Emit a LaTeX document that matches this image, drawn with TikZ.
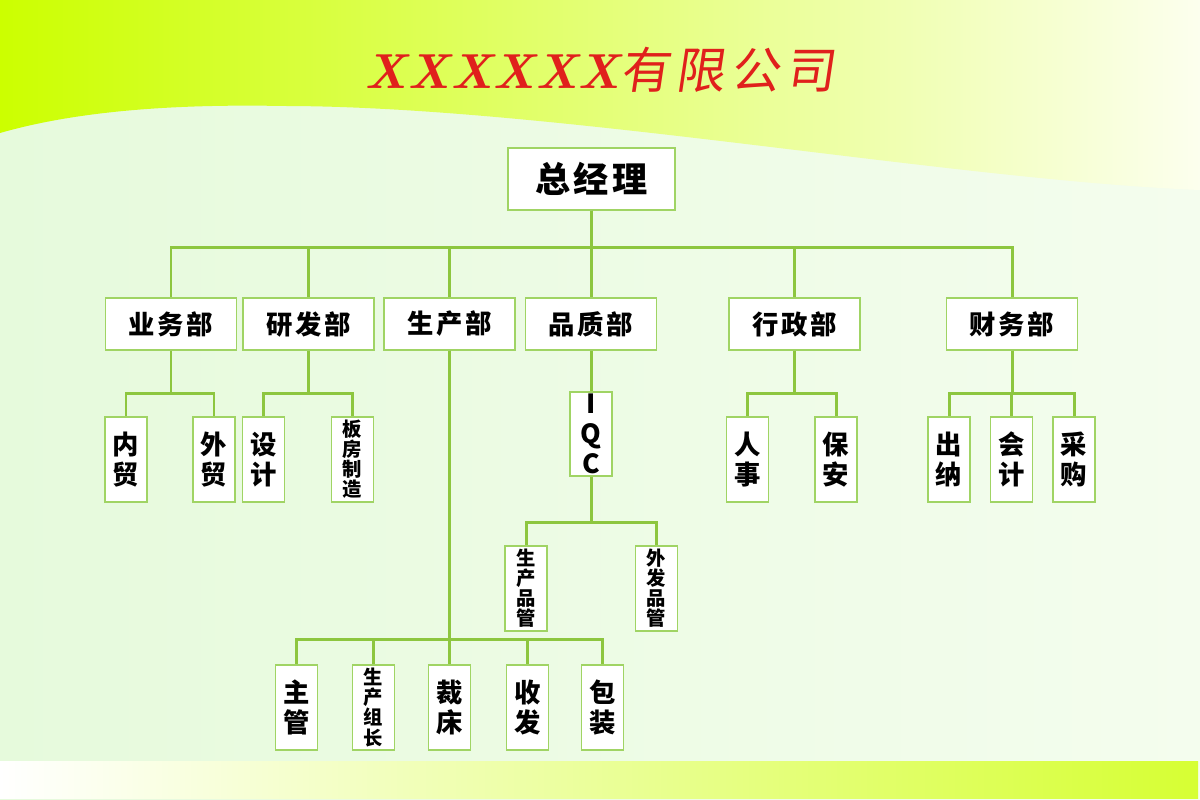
\documentclass[tikz,border=0pt]{standalone}
\usepackage{fontspec}
\usepackage{tikz}
\usetikzlibrary{arrows.meta, positioning, backgrounds}

\newfontfamily\cjk{Noto Sans CJK SC}[LetterSpace=10]
\newfontfamily\cjktitle{Noto Sans CJK SC}[FakeSlant=0.15, LetterSpace=12]

\definecolor{linegreen}{RGB}{141,198,63}
\definecolor{boxgreen}{RGB}{160,212,100}
\definecolor{lime}{RGB}{204,255,0}
\definecolor{limemid}{RGB}{226,251,120}
\definecolor{paletop}{RGB}{252,255,238}
\definecolor{mint}{RGB}{230,250,220}
\definecolor{mintlight}{RGB}{244,253,238}
\definecolor{titlered}{RGB}{224,32,28}

\begin{document}
\begin{tikzpicture}[
            x=0.02cm, y=0.02cm,
            box/.style={rectangle, draw=boxgreen, fill=white, line width=1.1pt, inner sep=0pt},
            boss/.style={box, minimum width=3.34cm, minimum height=1.24cm, font=\cjk\bfseries\fontsize{20}{24}\selectfont},
            dept/.style={box, minimum width=2.62cm, minimum height=1.04cm, font=\cjk\bfseries\fontsize{15}{18}\selectfont},
            leaf/.style={box, minimum width=0.84cm, minimum height=1.7cm, align=center, font=\cjk\bfseries\fontsize{15}{17}\selectfont},
            leafsmall/.style={leaf, font=\cjk\bfseries\fontsize{11}{11.4}\selectfont},
            link/.style={draw=linegreen, line width=1.7pt}
        ]
            \useasboundingbox (0,0) rectangle (1200,-800);

            % background: pale lower part, lime band above the wave, bottom strip
            \shade[left color=mint, right color=mintlight] (0,0) rectangle (1200,-800);
            \shade[left color=lime, middle color=limemid, right color=paletop]
                (0,0) -- (0,-133) .. controls (80,-110) and (180,-104) .. (283,-106)
                .. controls (550,-106) and (950,-180) .. (1200,-190) -- (1200,0) -- cycle;
            \shade[left color=white, right color=lime!80] (0,-761) rectangle (1198,-798);

            % title
            \node[text=titlered, inner sep=0pt] (title) at (600,-70)
                {{\fontsize{28}{30}\selectfont\bfseries\itshape XXXXXX}{\cjktitle\fontsize{28}{30}\selectfont 有限公司}};

            % top
            \node[boss] (gm) at (591.5,-179) {总经理};

            % departments
            \node[dept] (yw) at (171,-324) {业务部};
            \node[dept] (yf) at (308.5,-324) {研发部};
            \node[dept] (sc) at (449.5,-324) {生产部};
            \node[dept] (pz) at (591,-324) {品质部};
            \node[dept] (xz) at (794.5,-324) {行政部};
            \node[dept] (cw) at (1012,-324) {财务部};

            % sections under departments
            \node[leaf] (neimao) at (126,-459.5) {内\\贸};
            \node[leaf] (waimao) at (214,-459.5) {外\\贸};
            \node[leaf] (sheji) at (263.5,-459.5) {设\\计};
            \node[leafsmall] (banfang) at (352.5,-459.5) {板\\房\\制\\造};
            \node[leaf] (renshi) at (747.5,-459.5) {人\\事};
            \node[leaf] (baoan) at (836,-459.5) {保\\安};
            \node[leaf] (chuna) at (949,-459.5) {出\\纳};
            \node[leaf] (kuaiji) at (1011.5,-459.5) {会\\计};
            \node[leaf] (caigou) at (1074,-459.5) {采\\购};

            % quality control
            \node[leaf, minimum height=1.68cm] (iqc) at (591,-434) {I\\Q\\C};
            \node[leafsmall] (scpg) at (526,-588.5) {生\\产\\品\\管};
            \node[leafsmall] (wfpg) at (656.5,-588.5) {外\\发\\品\\管};

            % production floor
            \node[leaf] (zhuguan) at (296.5,-707.5) {主\\管};
            \node[leafsmall] (zuzhang) at (373.5,-707.5) {生\\产\\组\\长};
            \node[leaf] (caichuang) at (449.5,-707.5) {裁\\床};
            \node[leaf] (shoufa) at (527.5,-707.5) {收\\发};
            \node[leaf] (baozhuang) at (602.5,-707.5) {包\\装};

            % general manager to departments
            \foreach \d in {yw, yf, sc, pz, xz, cw}
                \draw[link] (gm.south) -- ++(0,-37) -| (\d.north);

            % department trees
            \foreach \c in {neimao, waimao}
                \draw[link] (yw.south) -- ++(0,-43) -| (\c.north);
            \foreach \c in {sheji, banfang}
                \draw[link] (yf.south) -- ++(0,-43) -| (\c.north);
            \foreach \c in {renshi, baoan}
                \draw[link] (xz.south) -- ++(0,-43) -| (\c.north);
            \foreach \c in {chuna, kuaiji, caigou}
                \draw[link] (cw.south) -- ++(0,-43) -| (\c.north);

            \draw[link] (pz) -- (iqc);
            \foreach \c in {scpg, wfpg}
                \draw[link] (iqc.south) -- ++(0,-46) -| (\c.north);

            \foreach \c in {zhuguan, zuzhang, caichuang, shoufa, baozhuang}
                \draw[link] (sc.south) -- ++(0,-289) -| (\c.north);
        \end{tikzpicture}
\end{document}
